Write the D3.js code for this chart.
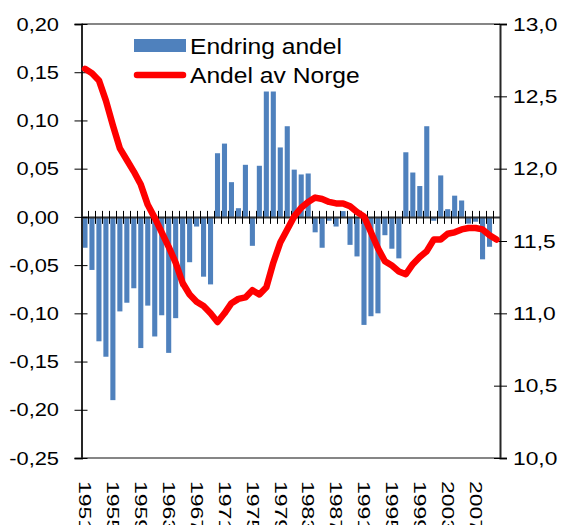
<!DOCTYPE html>
<html>
<head>
<meta charset="utf-8">
<style>
    body { margin: 0; background: #fff; }
    .lbl {
        font-family: 'Liberation Sans', Arial, sans-serif;
        fill: #000;
    }
    .bar { fill: #4F81BD; }
    .andel {
        fill: none;
        stroke: #FF0000;
        stroke-width: 6.5px;
        stroke-linejoin: round;
        stroke-linecap: round;
    }
    .border { stroke: #868686; stroke-width: 2px; }
    .yline { stroke: #262626; stroke-width: 2px; }
    .tick line { stroke: #000; stroke-width: 1px; }
    .domain { stroke: #333; stroke-width: 2px; }
</style>
</head>
<body>
<svg id="chart" width="567" height="525"></svg>
<script src="https://d3js.org/d3.v7.min.js"></script>
<script>
    var years = [1951, 1952, 1953, 1954, 1955, 1956, 1957, 1958, 1959, 1960,
                 1961, 1962, 1963, 1964, 1965, 1966, 1967, 1968, 1969, 1970,
                 1971, 1972, 1973, 1974, 1975, 1976, 1977, 1978, 1979, 1980,
                 1981, 1982, 1983, 1984, 1985, 1986, 1987, 1988, 1989, 1990,
                 1991, 1992, 1993, 1994, 1995, 1996, 1997, 1998, 1999, 2000,
                 2001, 2002, 2003, 2004, 2005, 2006, 2007, 2008, 2009, 2010];
    // Endring andel (left axis)
    var endring = [-0.032, -0.055, -0.129, -0.145, -0.190, -0.098, -0.089, -0.074, -0.136, -0.092,
                   -0.124, -0.102, -0.141, -0.105, -0.072, -0.047, -0.010, -0.062, -0.070, 0.066,
                   0.076, 0.036, 0.009, 0.054, -0.030, 0.053, 0.130, 0.130, 0.072, 0.094,
                   0.049, 0.044, 0.045, -0.016, -0.032, -0.004, -0.010, 0.006, -0.029, -0.041,
                   -0.112, -0.103, -0.100, -0.019, -0.033, -0.043, 0.067, 0.046, 0.032, 0.094,
                   -0.004, 0.043, 0.008, 0.022, 0.017, -0.007, -0.005, -0.044, -0.031, null];
    // Andel av Norge (right axis)
    var andel = [12.69, 12.66, 12.61, 12.47, 12.30, 12.14, 12.06, 11.98, 11.89, 11.75,
                 11.66, 11.56, 11.46, 11.35, 11.21, 11.13, 11.08, 11.05, 11.00, 10.94,
                 11.00, 11.07, 11.10, 11.11, 11.16, 11.13, 11.18, 11.35, 11.49, 11.58,
                 11.67, 11.73, 11.77, 11.80, 11.79, 11.77, 11.76, 11.76, 11.74, 11.70,
                 11.67, 11.56, 11.45, 11.36, 11.33, 11.29, 11.27, 11.34, 11.39, 11.43,
                 11.51, 11.51, 11.55, 11.56, 11.58, 11.59, 11.59, 11.58, 11.54, 11.51];
    var leftTicks = [0.20, 0.15, 0.10, 0.05, 0.00, -0.05, -0.10, -0.15, -0.20, -0.25];
    var rightTicks = [13.0, 12.5, 12.0, 11.5, 11.0, 10.5, 10.0];
    var xLabels = [1951, 1955, 1959, 1963, 1967, 1971, 1975, 1979, 1983, 1987, 1991, 1995, 1999, 2003, 2007];

    var g_left = 81.5, g_right = 500, g_top = 24, g_bottom = 458;
    var sx = 1.15; // the picture is a bit wider than tall

    var loc = d3.formatLocale({decimal: ',', thousands: ' ', grouping: [3], currency: ['', ''], minus: '-'});
    var fmt2 = loc.format('.2f');
    var fmt1 = loc.format('.1f');

    var chart = d3.select('#chart');
    var x = d3.scaleBand().domain(years).range([g_left, g_right]).paddingInner(0.27).paddingOuter(0.135);
    var y = d3.scaleLinear().domain([-0.25, 0.20]).range([g_bottom, g_top]);
    var y2 = d3.scaleLinear().domain([10, 13]).range([g_bottom, g_top]);
    var step = x.step();

    // frame
    chart.append('line').attr('class', 'border')
        .attr('x1', g_left).attr('x2', g_right).attr('y1', g_top).attr('y2', g_top);
    chart.append('line').attr('class', 'border')
        .attr('x1', g_left).attr('x2', g_right).attr('y1', g_bottom).attr('y2', g_bottom);

    // bars
    chart.append('g').selectAll('rect')
        .data(years.map(function(d, i) { return {year: d, v: endring[i]}; })
                   .filter(function(d) { return d.v !== null; }))
        .enter().append('rect')
        .attr('class', 'bar')
        .attr('x', function(d) { return x(d.year); })
        .attr('width', x.bandwidth())
        .attr('y', function(d) { return y(Math.max(0, d.v)); })
        .attr('height', function(d) { return Math.abs(y(d.v) - y(0)); });

    // category axis on zero, ticks between categories crossing the line
    var xAxis = d3.axisBottom(x).tickValues([]).tickSizeOuter(0);
    var axisX = chart.append('g').attr('transform', 'translate(0,' + y(0) + ')').call(xAxis);
    axisX.selectAll('.tick-b').data(years.slice(1)).enter().append('line')
        .attr('class', 'tick-b')
        .attr('stroke', '#000')
        .attr('x1', function(d) { return Math.round(x(d) - x.paddingInner() * step / 2) + 0.5; })
        .attr('x2', function(d) { return Math.round(x(d) - x.paddingInner() * step / 2) + 0.5; })
        .attr('y1', -6).attr('y2', 7);

    // left axis
    var yAxis = d3.axisLeft(y).tickValues(leftTicks).tickSize(7).tickFormat('');
    var axisY = chart.append('g').attr('transform', 'translate(' + g_left + ',0)').call(yAxis);
    axisY.select('.domain').attr('class', 'yline');
    axisY.selectAll('.tick line').attr('x1', 6).attr('x2', -7);
    chart.append('g').selectAll('text').data(leftTicks).enter().append('text')
        .attr('class', 'lbl')
        .attr('transform', function(d) { return 'translate(59,' + y(d) + ') scale(' + sx + ',1)'; })
        .attr('dy', '0.35em')
        .attr('text-anchor', 'end')
        .style('font-size', '19px')
        .text(function(d) { return fmt2(d); });

    // right axis
    var y2Axis = d3.axisRight(y2).tickValues(rightTicks).tickSize(7).tickFormat('');
    var axisY2 = chart.append('g').attr('transform', 'translate(' + g_right + ',0)').call(y2Axis);
    axisY2.select('.domain').attr('class', 'yline');
    axisY2.selectAll('.tick line').attr('x1', -6).attr('x2', 7);
    chart.append('g').selectAll('text').data(rightTicks).enter().append('text')
        .attr('class', 'lbl')
        .attr('transform', function(d) { return 'translate(513,' + y2(d) + ') scale(1.2,1)'; })
        .attr('dy', '0.35em')
        .style('font-size', '19px')
        .text(function(d) { return fmt1(d); });

    // year labels, rotated
    chart.append('g').selectAll('text').data(xLabels).enter().append('text')
        .attr('class', 'lbl')
        .attr('transform', function(d) {
            return 'translate(' + (x(d) + x.bandwidth() / 2) + ',481) rotate(90) scale(1.15,0.82)';
        })
        .attr('dy', '0.35em')
        .style('font-size', '20px')
        .text(function(d) { return d; });

    // line
    var line = d3.line()
        .x(function(d) { return x(d.year) + x.bandwidth() / 2; })
        .y(function(d) { return y2(d.v); });
    chart.append('path')
        .datum(years.map(function(d, i) { return {year: d, v: andel[i]}; }))
        .attr('class', 'andel')
        .attr('d', line);

    // legend
    var legend = chart.append('g');
    legend.append('rect').attr('class', 'bar')
        .attr('x', 134).attr('y', 39).attr('width', 52).attr('height', 13);
    legend.append('line').attr('class', 'andel')
        .attr('x1', 137).attr('x2', 183).attr('y1', 75).attr('y2', 75);
    legend.append('text').attr('class', 'lbl')
        .attr('transform', 'translate(190,54) scale(1.12,1)')
        .style('font-size', '22px')
        .text('Endring andel');
    legend.append('text').attr('class', 'lbl')
        .attr('transform', 'translate(190,83) scale(1.12,1)')
        .style('font-size', '22px')
        .text('Andel av Norge');
</script>
</body>
</html>
